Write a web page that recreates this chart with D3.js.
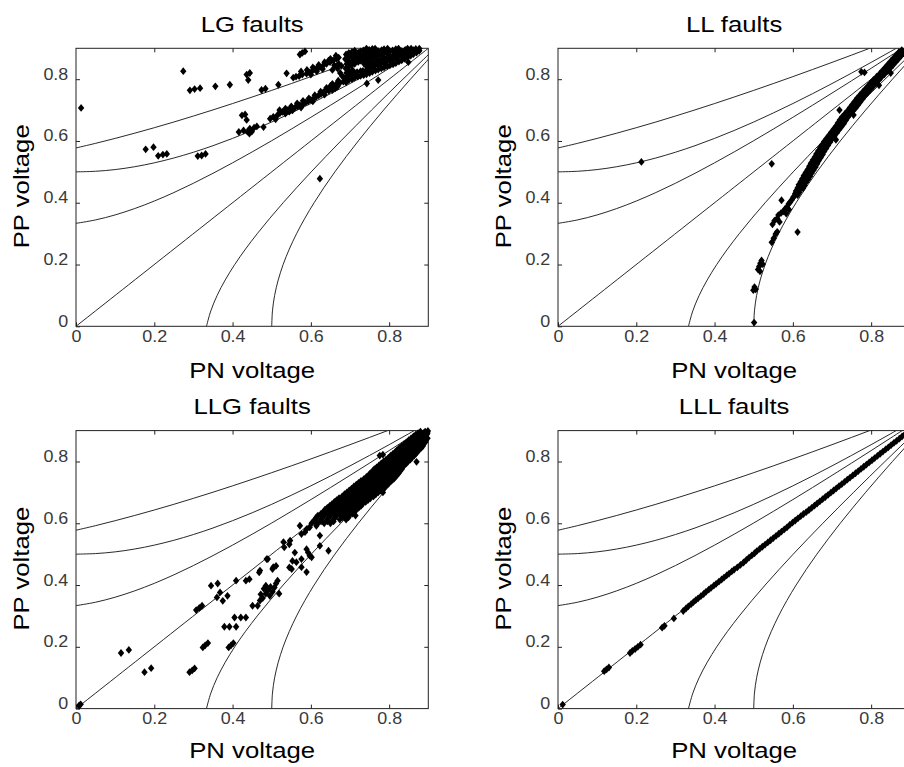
<!DOCTYPE html>
<html><head><meta charset="utf-8">
<script src="https://cdn.jsdelivr.net/npm/d3@7"></script>
<style>
body{margin:0;background:#fff}
svg text{font-family:"Liberation Sans",Arial,Helvetica,sans-serif}
</style>
</head><body>
<svg id="chart" width="904" height="767"></svg>
<script>
// ---------- data ----------
const xTicks=[0,0.2,0.4,0.6,0.8];
const yTicks=[0,0.2,0.4,0.6,0.8];
const tickLabels=["0","0.2","0.4","0.6","0.8"];
const titles=["LG faults","LL faults","LLG faults","LLL faults"];
const xLabel="PN voltage", yLabel="PP voltage";

// reference curves [PN, PP]
const refB=[[0,0.5774],[0.05,0.5923],[0.1,0.6083],[0.15,0.6252],[0.2,0.6429],[0.25,0.6614],[0.3,0.6807],[0.35,0.7006],[0.4,0.7211],[0.45,0.7422],[0.5,0.7638],[0.55,0.7858],[0.6,0.8083],[0.65,0.8312],[0.7,0.8544],[0.75,0.8780],[0.8,0.9018],[0.85,0.9260]];
const refD=[[0,0.5],[0.05,0.5019],[0.1,0.5074],[0.15,0.5166],[0.2,0.5292],[0.25,0.5449],[0.3,0.5635],[0.35,0.5847],[0.4,0.6083],[0.45,0.6339],[0.5,0.6614],[0.55,0.6906],[0.6,0.7211],[0.65,0.7529],[0.7,0.7858],[0.75,0.8197],[0.8,0.8544],[0.85,0.8899],[0.9,0.9260]];
const refF=[[0,0.3333],[0.05,0.3444],[0.1,0.3606],[0.15,0.3812],[0.2,0.4055],[0.25,0.4330],[0.3,0.4631],[0.35,0.4953],[0.4,0.5292],[0.45,0.5645],[0.5,0.6009],[0.55,0.6384],[0.6,0.6766],[0.65,0.7155],[0.7,0.7550],[0.75,0.7949],[0.8,0.8353],[0.85,0.8761],[0.9,0.9171]];
const refA=[[0,0],[0.45,0.45],[0.9,0.9]];
const refG=[[0.3333,0],[0.3444,0.05],[0.3606,0.1],[0.3812,0.15],[0.4055,0.2],[0.4330,0.25],[0.4631,0.3],[0.4953,0.35],[0.5292,0.4],[0.5645,0.45],[0.6009,0.5],[0.6384,0.55],[0.6766,0.6],[0.7155,0.65],[0.7550,0.7],[0.7949,0.75],[0.8353,0.8],[0.8761,0.85],[0.9171,0.9]];
const refC=[[0.5,0],[0.5019,0.05],[0.5074,0.1],[0.5166,0.15],[0.5292,0.2],[0.5449,0.25],[0.5635,0.3],[0.5847,0.35],[0.6083,0.4],[0.6339,0.45],[0.6614,0.5],[0.6906,0.55],[0.7211,0.6],[0.7529,0.65],[0.7858,0.7],[0.8197,0.75],[0.8544,0.8],[0.8899,0.85],[0.9260,0.9]];

const ptsLG=[
[0.013,0.707],
[0.178,0.573],[0.198,0.580],[0.210,0.552],[0.222,0.556],[0.232,0.558],
[0.274,0.826],
[0.291,0.764],[0.303,0.768],[0.317,0.771],
[0.311,0.551],[0.321,0.553],[0.331,0.558],
[0.356,0.777],[0.393,0.782],
[0.436,0.815],[0.444,0.820],[0.440,0.797],
[0.474,0.765],[0.484,0.769],[0.517,0.782],[0.538,0.819],
[0.572,0.880],[0.578,0.885],[0.585,0.890],
[0.623,0.478],[0.849,0.855],[0.772,0.797],[0.743,0.786],
[0.416,0.629],[0.424,0.683],[0.432,0.686],[0.436,0.668],[0.428,0.634],[0.438,0.630],[0.449,0.630],[0.455,0.643],[0.462,0.647],[0.479,0.645],[0.444,0.640],[0.443,0.624],
[0.496,0.672],[0.504,0.678],[0.510,0.670],[0.515,0.684],[0.521,0.690],[0.528,0.694],[0.535,0.689],[0.540,0.700],[0.547,0.705],[0.553,0.699],[0.560,0.709],[0.566,0.712],[0.572,0.716],[0.580,0.719],[0.587,0.725],[0.593,0.728],[0.600,0.733],[0.607,0.737],[0.613,0.742],[0.620,0.748],[0.626,0.752],
[0.520,0.700],[0.535,0.705],[0.550,0.712],[0.565,0.722],[0.580,0.730],[0.595,0.738],[0.610,0.748],[0.625,0.760],[0.640,0.772],[0.655,0.785],[0.670,0.795],
[0.545,0.695],[0.575,0.708],[0.605,0.728],[0.635,0.750],[0.665,0.776],
[0.632,0.758],[0.640,0.765],[0.649,0.770],[0.657,0.778],[0.665,0.784],[0.674,0.788],[0.683,0.792],[0.650,0.778],[0.662,0.770],[0.668,0.776],[0.646,0.762],[0.655,0.765],
[0.555,0.805],[0.562,0.808],[0.570,0.810],[0.578,0.815],[0.589,0.818],[0.596,0.822],[0.603,0.826],[0.610,0.833],[0.617,0.836],[0.623,0.839],[0.632,0.845],[0.640,0.850],[0.649,0.855],[0.657,0.861],[0.665,0.866],[0.660,0.845],[0.671,0.850],[0.678,0.843],[0.664,0.876],[0.671,0.870],[0.645,0.860],
[0.575,0.825],[0.590,0.830],[0.605,0.838],[0.620,0.846],[0.635,0.855],[0.650,0.866],[0.600,0.815],[0.615,0.825],[0.630,0.833],
[0.655,0.830],[0.668,0.835],[0.675,0.820],[0.680,0.810],
[0.690,0.790],[0.688,0.805],[0.691,0.820],[0.689,0.835],[0.692,0.850],[0.688,0.865],[0.690,0.880],
[0.705,0.800],[0.703,0.815],[0.706,0.830],[0.704,0.845],[0.706,0.860],[0.703,0.875],[0.705,0.888],
[0.720,0.808],[0.718,0.823],[0.721,0.856],[0.719,0.871],[0.721,0.886],
[0.735,0.813],[0.733,0.827],[0.736,0.850],[0.734,0.864],[0.736,0.879],[0.734,0.893],
[0.750,0.820],[0.748,0.835],[0.751,0.850],[0.749,0.865],[0.751,0.880],[0.749,0.895],
[0.765,0.828],[0.763,0.843],[0.766,0.858],[0.764,0.873],[0.766,0.888],[0.764,0.899],
[0.780,0.835],[0.778,0.850],[0.781,0.865],[0.779,0.880],[0.781,0.894],
[0.795,0.842],[0.793,0.857],[0.796,0.872],[0.794,0.887],[0.796,0.899],
[0.810,0.848],[0.808,0.863],[0.811,0.878],[0.809,0.893],
[0.825,0.857],[0.823,0.872],[0.826,0.887],[0.824,0.899],
[0.840,0.866],[0.838,0.881],[0.841,0.895],
[0.855,0.876],[0.853,0.889],[0.856,0.899],
[0.870,0.886],[0.868,0.898],
[0.697,0.797],[0.697,0.812],[0.697,0.827],[0.697,0.842],[0.697,0.857],[0.697,0.872],[0.697,0.885],
[0.712,0.805],[0.712,0.820],[0.712,0.850],[0.712,0.865],[0.712,0.880],[0.712,0.892],
[0.727,0.811],[0.727,0.826],[0.727,0.860],[0.727,0.875],[0.727,0.890],
[0.742,0.816],[0.742,0.830],[0.742,0.843],[0.742,0.857],[0.742,0.872],[0.742,0.887],[0.742,0.899],
[0.757,0.824],[0.757,0.839],[0.757,0.854],[0.757,0.869],[0.757,0.884],[0.757,0.898],
[0.772,0.831],[0.772,0.846],[0.772,0.861],[0.772,0.876],[0.772,0.891],
[0.787,0.838],[0.787,0.853],[0.787,0.868],[0.787,0.883],[0.787,0.897],
[0.802,0.845],[0.802,0.860],[0.802,0.875],[0.802,0.890],
[0.817,0.852],[0.817,0.867],[0.817,0.882],[0.817,0.897],
[0.832,0.861],[0.832,0.876],[0.832,0.891],
[0.847,0.871],[0.847,0.886],[0.847,0.899],
[0.862,0.881],[0.862,0.894],
[0.877,0.892],[0.877,0.899]
];

const ptsLL=[
[0.213,0.532],[0.546,0.526],[0.719,0.700],[0.738,0.692],[0.775,0.824],[0.783,0.822],[0.612,0.305],[0.571,0.408],
[0.501,0.012],[0.499,0.117],[0.502,0.127],[0.505,0.120],[0.511,0.184],[0.514,0.194],[0.517,0.204],[0.520,0.213],[0.523,0.201],[0.516,0.178],
[0.546,0.272],[0.551,0.285],[0.556,0.299],[0.560,0.306],
[0.548,0.330],[0.553,0.342],[0.560,0.349],[0.566,0.338],[0.563,0.360],[0.570,0.367],[0.576,0.372],[0.580,0.380],[0.585,0.386],[0.589,0.396],[0.593,0.402],[0.597,0.409],[0.601,0.418],[0.583,0.365],[0.590,0.378],
[0.603,0.420],[0.612,0.425],
[0.608,0.438],[0.618,0.442],[0.626,0.447],
[0.615,0.458],[0.625,0.462],[0.634,0.467],
[0.624,0.478],[0.634,0.482],[0.644,0.486],
[0.633,0.498],[0.643,0.502],[0.653,0.506],
[0.642,0.518],[0.652,0.522],[0.662,0.526],
[0.651,0.538],[0.661,0.542],[0.671,0.546],
[0.660,0.558],[0.670,0.562],[0.680,0.566],
[0.670,0.578],[0.680,0.582],[0.690,0.586],
[0.680,0.598],[0.690,0.602],[0.700,0.606],[0.710,0.604],
[0.692,0.618],[0.702,0.622],[0.712,0.626],
[0.704,0.638],[0.714,0.642],[0.724,0.646],
[0.715,0.658],[0.725,0.662],[0.735,0.666],
[0.726,0.678],[0.736,0.682],[0.746,0.686],[0.755,0.684],
[0.740,0.698],[0.750,0.702],[0.760,0.706],
[0.752,0.718],[0.762,0.722],[0.772,0.726],
[0.764,0.738],[0.774,0.742],[0.784,0.746],
[0.778,0.758],[0.788,0.762],[0.798,0.766],
[0.792,0.778],[0.802,0.782],[0.812,0.786],[0.820,0.780],
[0.806,0.798],[0.816,0.802],[0.826,0.806],
[0.822,0.818],[0.832,0.822],[0.842,0.826],[0.850,0.820],
[0.836,0.838],[0.846,0.842],[0.856,0.846],
[0.850,0.858],[0.860,0.862],[0.870,0.866],
[0.864,0.878],[0.874,0.882],[0.884,0.886],
[0.878,0.894],[0.890,0.897],[0.898,0.899],
[0.606,0.430],[0.616,0.433],
[0.612,0.448],[0.622,0.452],[0.630,0.456],
[0.620,0.468],[0.630,0.472],[0.639,0.476],
[0.628,0.488],[0.638,0.492],[0.648,0.496],
[0.638,0.508],[0.648,0.512],[0.658,0.516],
[0.646,0.528],[0.656,0.532],[0.666,0.536],
[0.656,0.548],[0.666,0.552],[0.676,0.556],
[0.665,0.568],[0.675,0.572],[0.685,0.576],
[0.675,0.588],[0.685,0.592],[0.695,0.596],
[0.686,0.608],[0.696,0.612],[0.706,0.616],
[0.698,0.628],[0.708,0.632],[0.718,0.636],
[0.710,0.648],[0.720,0.652],[0.730,0.656],
[0.720,0.668],[0.730,0.672],[0.740,0.676],
[0.733,0.688],[0.743,0.692],[0.753,0.696],
[0.746,0.708],[0.756,0.712],[0.766,0.716],
[0.758,0.728],[0.768,0.732],[0.778,0.736],
[0.771,0.748],[0.781,0.752],[0.791,0.756],
[0.785,0.768],[0.795,0.772],[0.805,0.776],
[0.799,0.788],[0.809,0.792],[0.819,0.796],
[0.814,0.808],[0.824,0.812],[0.834,0.816],
[0.829,0.828],[0.839,0.832],[0.849,0.836],
[0.843,0.848],[0.853,0.852],[0.863,0.856],
[0.857,0.868],[0.867,0.872],[0.877,0.876],
[0.871,0.888],[0.881,0.890],[0.891,0.892]
];

const ptsLLG=[
[0.008,0.010],[0.012,0.014],
[0.115,0.180],[0.135,0.190],
[0.175,0.118],[0.192,0.131],
[0.290,0.118],[0.297,0.124],[0.303,0.130],
[0.324,0.198],[0.330,0.205],[0.337,0.212],
[0.307,0.319],[0.315,0.326],[0.322,0.333],
[0.345,0.398],[0.362,0.405],[0.368,0.376],[0.360,0.360],[0.375,0.349],[0.387,0.365],
[0.379,0.265],[0.392,0.265],[0.409,0.265],[0.405,0.295],[0.421,0.295],[0.434,0.295],
[0.390,0.198],[0.396,0.205],[0.402,0.212],
[0.409,0.414],[0.434,0.414],[0.443,0.419],
[0.451,0.333],[0.464,0.333],
[0.468,0.441],[0.470,0.447],[0.490,0.484],[0.487,0.484],[0.502,0.452],[0.504,0.458],[0.511,0.462],[0.515,0.414],
[0.470,0.350],[0.477,0.358],[0.472,0.370],[0.485,0.372],[0.490,0.383],[0.480,0.388],[0.497,0.394],[0.502,0.378],[0.511,0.405],[0.519,0.372],[0.507,0.392],[0.495,0.365],[0.485,0.398],
[0.532,0.522],[0.545,0.532],[0.545,0.457],[0.553,0.478],[0.530,0.539],[0.547,0.544],
[0.572,0.592],[0.589,0.581],[0.576,0.565],[0.585,0.571],[0.597,0.587],[0.559,0.505],[0.589,0.516],[0.597,0.495],[0.602,0.490],[0.623,0.527],[0.623,0.560],[0.614,0.592],[0.645,0.511],
[0.563,0.474],[0.576,0.484],[0.593,0.505],[0.551,0.452],[0.576,0.458],[0.589,0.442],
[0.776,0.819],[0.784,0.822],[0.870,0.799],
[0.602,0.600],[0.618,0.600],[0.634,0.600],[0.650,0.600],
[0.610,0.612],[0.626,0.612],[0.642,0.612],[0.658,0.612],[0.674,0.612],[0.690,0.612],
[0.618,0.625],[0.634,0.625],[0.650,0.625],[0.666,0.625],[0.684,0.625],[0.698,0.625],[0.714,0.625],
[0.632,0.637],[0.648,0.637],[0.664,0.637],[0.680,0.637],[0.696,0.637],[0.712,0.637],
[0.642,0.650],[0.658,0.650],[0.674,0.650],[0.690,0.650],[0.706,0.650],[0.722,0.650],
[0.654,0.662],[0.670,0.662],[0.686,0.662],[0.702,0.662],[0.718,0.662],[0.732,0.662],
[0.666,0.675],[0.682,0.675],[0.698,0.675],[0.714,0.675],[0.730,0.675],[0.746,0.675],
[0.680,0.687],[0.696,0.687],[0.712,0.687],[0.728,0.687],[0.744,0.687],[0.760,0.687],
[0.692,0.700],[0.708,0.700],[0.724,0.700],[0.740,0.700],[0.756,0.700],[0.772,0.700],[0.784,0.700],
[0.704,0.712],[0.720,0.712],[0.736,0.712],[0.752,0.712],[0.768,0.712],[0.786,0.712],
[0.716,0.725],[0.732,0.725],[0.748,0.725],[0.764,0.725],[0.780,0.725],[0.796,0.725],
[0.728,0.737],[0.744,0.737],[0.760,0.737],[0.776,0.737],[0.792,0.737],[0.806,0.737],
[0.742,0.750],[0.758,0.750],[0.774,0.750],[0.790,0.750],[0.806,0.750],[0.816,0.750],
[0.752,0.762],[0.768,0.762],[0.784,0.762],[0.800,0.762],[0.816,0.762],[0.824,0.762],
[0.762,0.775],[0.778,0.775],[0.794,0.775],[0.810,0.775],[0.826,0.775],[0.832,0.775],
[0.774,0.787],[0.790,0.787],[0.806,0.787],[0.822,0.787],[0.838,0.787],
[0.786,0.800],[0.802,0.800],[0.818,0.800],[0.834,0.800],[0.848,0.800],
[0.798,0.812],[0.814,0.812],[0.830,0.812],[0.846,0.812],[0.858,0.812],
[0.810,0.825],[0.826,0.825],[0.842,0.825],[0.858,0.825],[0.868,0.825],
[0.820,0.837],[0.836,0.837],[0.852,0.837],[0.868,0.837],[0.876,0.837],
[0.832,0.850],[0.848,0.850],[0.864,0.850],[0.880,0.850],[0.886,0.850],
[0.844,0.862],[0.860,0.862],[0.876,0.862],[0.892,0.862],
[0.856,0.875],[0.872,0.875],[0.888,0.875],[0.898,0.875],
[0.868,0.887],[0.884,0.887],[0.896,0.887],
[0.880,0.897],[0.892,0.897],[0.899,0.899],
[0.610,0.606],[0.626,0.606],[0.642,0.606],[0.658,0.606],
[0.614,0.619],[0.630,0.619],[0.646,0.619],[0.662,0.619],[0.680,0.619],[0.696,0.619],
[0.626,0.631],[0.642,0.631],[0.658,0.631],[0.674,0.631],[0.690,0.631],[0.706,0.631],
[0.636,0.644],[0.652,0.644],[0.668,0.644],[0.684,0.644],[0.700,0.644],[0.716,0.644],
[0.648,0.656],[0.664,0.656],[0.680,0.656],[0.696,0.656],[0.712,0.656],[0.728,0.656],
[0.660,0.669],[0.676,0.669],[0.692,0.669],[0.708,0.669],[0.724,0.669],[0.740,0.669],
[0.672,0.681],[0.688,0.681],[0.704,0.681],[0.720,0.681],[0.736,0.681],[0.752,0.681],
[0.686,0.694],[0.702,0.694],[0.718,0.694],[0.734,0.694],[0.750,0.694],[0.766,0.694],
[0.698,0.706],[0.714,0.706],[0.730,0.706],[0.746,0.706],[0.762,0.706],[0.778,0.706],
[0.710,0.719],[0.726,0.719],[0.742,0.719],[0.758,0.719],[0.774,0.719],[0.790,0.719],
[0.722,0.731],[0.738,0.731],[0.754,0.731],[0.770,0.731],[0.786,0.731],[0.800,0.731],
[0.736,0.744],[0.752,0.744],[0.768,0.744],[0.784,0.744],[0.800,0.744],[0.812,0.744],
[0.748,0.756],[0.764,0.756],[0.780,0.756],[0.796,0.756],[0.812,0.756],[0.820,0.756],
[0.758,0.769],[0.774,0.769],[0.790,0.769],[0.806,0.769],[0.822,0.769],[0.828,0.769],
[0.768,0.781],[0.784,0.781],[0.800,0.781],[0.816,0.781],[0.832,0.781],
[0.780,0.794],[0.796,0.794],[0.812,0.794],[0.828,0.794],[0.844,0.794],
[0.792,0.806],[0.808,0.806],[0.824,0.806],[0.840,0.806],[0.854,0.806],
[0.804,0.819],[0.820,0.819],[0.836,0.819],[0.852,0.819],[0.864,0.819],
[0.816,0.831],[0.832,0.831],[0.848,0.831],[0.864,0.831],[0.872,0.831],
[0.826,0.844],[0.842,0.844],[0.858,0.844],[0.874,0.844],[0.882,0.844],
[0.838,0.856],[0.854,0.856],[0.870,0.856],[0.886,0.856],
[0.850,0.869],[0.866,0.869],[0.882,0.869],[0.894,0.869],
[0.862,0.881],[0.878,0.881],[0.892,0.881],
[0.874,0.892],[0.888,0.892],[0.898,0.892]
];

const ptsLLL=[
[0.012,0.013],
[0.118,0.121],[0.124,0.127],[0.130,0.133],
[0.184,0.180],[0.190,0.187],[0.197,0.193],[0.204,0.200],[0.211,0.207],
[0.266,0.262],[0.272,0.268],[0.296,0.292],
[0.320,0.316],[0.327,0.324],[0.333,0.331],[0.340,0.338],[0.346,0.345],[0.352,0.351],[0.358,0.357],[0.365,0.364],[0.372,0.371],[0.378,0.378],[0.385,0.385],[0.391,0.391],[0.398,0.398],[0.404,0.404],[0.411,0.411],[0.418,0.418],[0.424,0.424],[0.431,0.431],[0.437,0.437],[0.444,0.444],[0.450,0.450],[0.458,0.457],[0.466,0.465],[0.474,0.473],[0.481,0.481],[0.488,0.489],[0.495,0.496],[0.502,0.503],[0.508,0.510],[0.515,0.517],[0.522,0.524],[0.529,0.531],[0.536,0.538],[0.543,0.545],[0.550,0.552],[0.557,0.559],[0.564,0.566],[0.571,0.573],[0.578,0.580],[0.585,0.587],[0.592,0.595],[0.599,0.602],[0.606,0.609],[0.613,0.616],[0.620,0.623],[0.627,0.630],[0.634,0.636],[0.641,0.643],[0.648,0.650],[0.655,0.657],[0.662,0.664],[0.669,0.671],[0.676,0.678],[0.683,0.685],[0.690,0.692],[0.697,0.699],[0.704,0.706],[0.711,0.713],[0.718,0.720],[0.725,0.727],[0.732,0.734],[0.739,0.741],[0.746,0.748],[0.753,0.755],[0.760,0.762],[0.767,0.769],[0.774,0.776],[0.781,0.783],[0.788,0.790],[0.795,0.797],[0.802,0.804],[0.809,0.811],[0.816,0.818],[0.823,0.825],[0.830,0.832],[0.837,0.839],[0.844,0.846],[0.851,0.853],[0.858,0.860],[0.865,0.867],[0.872,0.874],[0.879,0.881],[0.886,0.888],[0.893,0.895]
];

const refCurves=[refB,refD,refF,refA,refG,refC];
const panelPoints=[ptsLG,ptsLL,ptsLLG,ptsLLL];

// ---------- layout ----------
const panelPos=[{left:76,top:48.3},{left:558,top:48.3},{left:76,top:430.6},{left:558,top:430.6}];
const pw=352.3, ph=278;
const SX=1.17; // horizontal text stretch

const svg=d3.select("#chart");
const x=d3.scaleLinear().domain([0,0.9]).range([0,pw]);
const y=d3.scaleLinear().domain([0,0.9]).range([ph,0]);
const line=d3.line().x(d=>x(d[0])).y(d=>y(d[1])).curve(d3.curveCatmullRom.alpha(0.5));
const diamond="M0,-3.9L3.2,0L0,3.9L-3.2,0Z";

panelPos.forEach((p,i)=>{
  const g=svg.append("g").attr("transform",`translate(${p.left},${p.top})`);
  const cid="clip"+i;
  g.append("clipPath").attr("id",cid).append("rect").attr("width",pw).attr("height",ph);

  const styleAxis=sel=>{
    sel.select(".domain").remove();
    sel.selectAll(".tick line").attr("stroke","#222").attr("stroke-width",1);
  };
  const bx=g.append("g").attr("transform",`translate(0,${ph})`)
    .call(d3.axisBottom(x).tickValues(xTicks).tickFormat((d,k)=>tickLabels[k]).tickSizeInner(-4).tickSizeOuter(0).tickPadding(4.5));
  styleAxis(bx);
  bx.selectAll("text").attr("font-size",16).attr("fill","#3a3a3a").attr("transform",`scale(1.12,1)`);
  const lx=g.append("g")
    .call(d3.axisLeft(y).tickValues(yTicks).tickFormat((d,k)=>tickLabels[k]).tickSizeInner(-4).tickSizeOuter(0).tickPadding(0));
  styleAxis(lx);
  lx.selectAll("text").attr("font-size",16).attr("fill","#3a3a3a").attr("x",-7.7/1.12).attr("dy","0em").attr("transform",`scale(1.12,1)`);
  const tx=g.append("g").call(d3.axisTop(x).tickValues(xTicks.slice(1)).tickFormat("").tickSizeInner(-4).tickSizeOuter(0));
  styleAxis(tx);
  const rx=g.append("g").attr("transform",`translate(${pw},0)`).call(d3.axisRight(y).tickValues(yTicks.slice(1)).tickFormat("").tickSizeInner(-4).tickSizeOuter(0));
  styleAxis(rx);

  g.append("g").attr("clip-path",`url(#${cid})`).selectAll("path").data(refCurves).join("path")
    .attr("d",line).attr("fill","none").attr("stroke","#111").attr("stroke-width",0.9);

  g.append("rect").attr("width",pw).attr("height",ph).attr("fill","none").attr("stroke","#222").attr("stroke-width",1);

  g.append("g").selectAll("path").data(panelPoints[i]).join("path")
    .attr("d",diamond).attr("fill","#000")
    .attr("transform",d=>`translate(${x(d[0])},${y(d[1])})`);

  g.append("text").attr("text-anchor","middle").attr("font-size",22).attr("fill","#000")
    .attr("transform",`translate(${pw/2},${-16.6}) scale(${SX},1)`).text(titles[i]);
  g.append("text").attr("text-anchor","middle").attr("font-size",22).attr("fill","#000")
    .attr("transform",`translate(${pw/2},${ph+(i<2?51.5:49.5)}) scale(${SX},1)`).text(xLabel);
  g.append("text").attr("text-anchor","middle").attr("font-size",22).attr("fill","#000")
    .attr("transform",`translate(-47,${ph/2-1}) rotate(-90) scale(${SX},1)`).text(yLabel);
});
</script>
</body></html>
